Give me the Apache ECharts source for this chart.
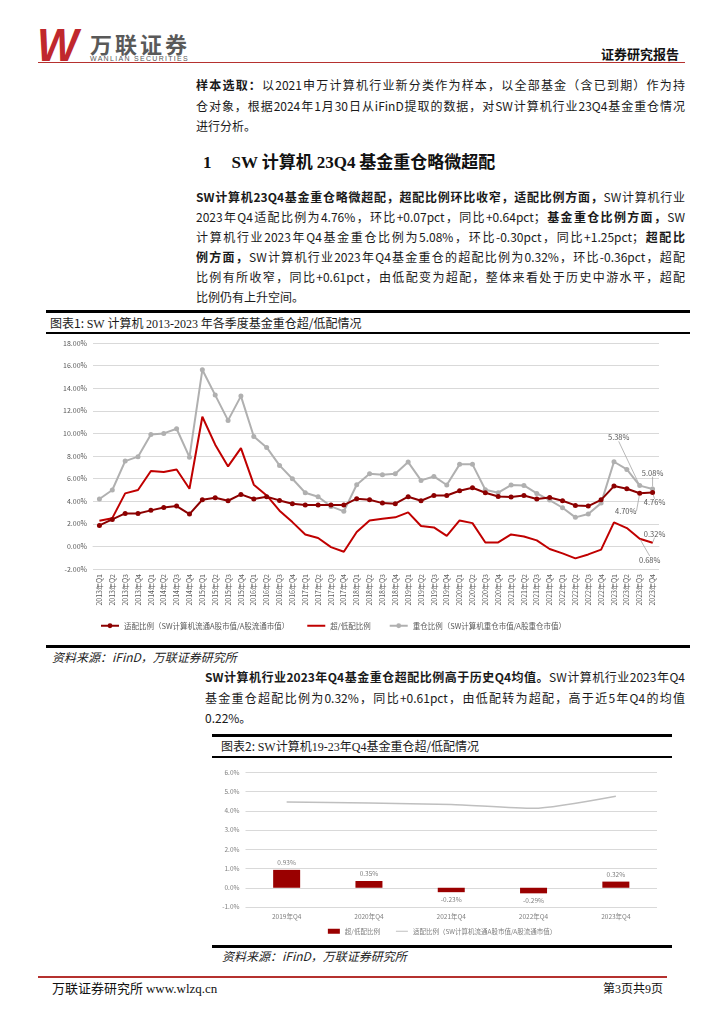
<!DOCTYPE html>
<html><head><meta charset="utf-8">
<script src="https://cdn.jsdelivr.net/npm/echarts@6/dist/echarts.min.js"></script>
<style>
html,body{margin:0;padding:0;background:#fff;}
body{width:724px;height:1024px;position:relative;overflow:hidden;font-family:"Noto Sans CJK SC","Liberation Serif",serif;color:#1a1a1a;}
.abs{position:absolute;white-space:nowrap;}
.ln{position:absolute;font-size:12px;line-height:20px;height:20px;text-align:justify;text-align-last:justify;white-space:nowrap;}
.ln.last{text-align-last:left;}
b{font-weight:700;}
.rule{position:absolute;background:#000;}
</style></head>
<body>
<!-- header -->
<div class="abs" style="left:37px;top:22px;font:italic 700 46px/46px 'Liberation Sans',sans-serif;color:#c0282d;letter-spacing:-8px;transform:scaleX(0.95);transform-origin:left;">W</div>
<div class="abs" style="left:90px;top:31px;font-size:22px;line-height:24px;font-weight:700;color:#595959;letter-spacing:3px;">万联证券</div>
<div class="abs" style="left:90px;top:55px;font:400 7px/8px 'Liberation Sans',sans-serif;color:#595959;letter-spacing:1.3px;">WANLIAN SECURITIES</div>
<div class="abs" style="left:601px;top:45px;font-size:13px;line-height:18px;font-weight:700;color:#111;">证券研究报告</div>
<div class="rule" style="left:38px;top:62px;width:647px;height:1px;background:#b5312f;"></div>

<!-- intro -->
<div class="ln" style="left:196px;top:75px;width:489px;"><b>样本选取：</b>以2021申万计算机行业新分类作为样本，以全部基金（含已到期）作为持</div>
<div class="ln" style="left:196px;top:96px;width:489px;">仓对象，根据2024年1月30日从iFinD提取的数据，对SW计算机行业23Q4基金重仓情况</div>
<div class="ln last" style="left:196px;top:116px;width:489px;">进行分析。</div>

<div class="abs" style="left:203px;top:149px;font-size:17px;line-height:24px;font-weight:700;color:#111;"><span style="font-family:'Liberation Serif',serif;">1</span><span style="display:inline-block;width:20px;"></span><span style="font-family:'Liberation Serif',serif;">SW</span> 计算机 <span style="font-family:'Liberation Serif',serif;">23Q4</span> 基金重仓略微超配</div>

<div class="ln" style="left:196px;top:187px;width:489px;"><b>SW计算机23Q4基金重仓略微超配，超配比例环比收窄，适配比例方面，</b>SW计算机行业</div>
<div class="ln" style="left:196px;top:207px;width:489px;">2023年Q4适配比例为4.76%，环比+0.07pct，同比+0.64pct；<b>基金重仓比例方面，</b>SW</div>
<div class="ln" style="left:196px;top:227px;width:489px;">计算机行业2023年Q4基金重仓比例为5.08%，环比-0.30pct，同比+1.25pct；<b>超配比</b></div>
<div class="ln" style="left:196px;top:247px;width:489px;"><b>例方面，</b>SW计算机行业2023年Q4基金重仓的超配比例为0.32%，环比-0.36pct，超配</div>
<div class="ln" style="left:196px;top:267px;width:489px;">比例有所收窄，同比+0.61pct，由低配变为超配，整体来看处于历史中游水平，超配</div>
<div class="ln last" style="left:196px;top:287px;width:489px;">比例仍有上升空间。</div>

<!-- figure 1 -->
<div class="rule" style="left:46px;top:310px;width:644px;height:3px;"></div>
<div class="abs" style="left:50px;top:314px;font-size:12px;line-height:18px;">图表1: <span style="font-family:'Liberation Serif',serif;">SW</span> 计算机 <span style="font-family:'Liberation Serif',serif;">2013-2023</span> 年各季度基金重仓超/低配情况</div>
<div class="rule" style="left:46px;top:332px;width:644px;height:2px;"></div>
<div id="c1" style="position:absolute;left:40px;top:334px;width:660px;height:311px;"></div>
<div class="rule" style="left:46px;top:645px;width:644px;height:3px;"></div>
<div class="abs" style="left:52px;top:648px;font-size:12px;line-height:18px;font-style:italic;color:#222;">资料来源：iFinD，万联证券研究所</div>

<div class="ln" style="left:205px;top:667px;width:480px;"><b>SW计算机行业2023年Q4基金重仓超配比例高于历史Q4均值。</b>SW计算机行业2023年Q4</div>
<div class="ln" style="left:205px;top:688px;width:480px;">基金重仓超配比例为0.32%，同比+0.61pct，由低配转为超配，高于近5年Q4的均值</div>
<div class="ln last" style="left:205px;top:708px;width:480px;">0.22%。</div>

<!-- figure 2 -->
<div class="rule" style="left:212px;top:734px;width:460px;height:3px;"></div>
<div class="abs" style="left:221px;top:737px;font-size:12px;line-height:18px;">图表2: <span style="font-family:'Liberation Serif',serif;">SW</span>计算机<span style="font-family:'Liberation Serif',serif;">19-23</span>年<span style="font-family:'Liberation Serif',serif;">Q4</span>基金重仓超/低配情况</div>
<div class="rule" style="left:212px;top:756px;width:460px;height:2px;"></div>
<div id="c2" style="position:absolute;left:212px;top:758px;width:460px;height:187px;"></div>
<div class="rule" style="left:212px;top:945px;width:460px;height:3px;"></div>
<div class="abs" style="left:222px;top:947px;font-size:12px;line-height:18px;font-style:italic;color:#222;">资料来源：iFinD，万联证券研究所</div>

<!-- footer -->
<div class="rule" style="left:38px;top:976px;width:629px;height:2px;background:#b5312f;"></div>
<div class="abs" style="left:52px;top:979px;font-size:13px;line-height:18px;color:#111;">万联证券研究所 <span style="font-family:'Liberation Serif',serif;">www.wlzq.cn</span></div>
<div class="abs" style="left:603px;top:979px;font-size:12px;line-height:18px;color:#111;">第<span style="font-family:'Liberation Serif',serif;">3</span>页共<span style="font-family:'Liberation Serif',serif;">9</span>页</div>

<script>
// ---------- data: chart 1 ----------
var quarters = ["2013年Q1","2013年Q2","2013年Q3","2013年Q4","2014年Q1","2014年Q2","2014年Q3","2014年Q4",
"2015年Q1","2015年Q2","2015年Q3","2015年Q4","2016年Q1","2016年Q2","2016年Q3","2016年Q4",
"2017年Q1","2017年Q2","2017年Q3","2017年Q4","2018年Q1","2018年Q2","2018年Q3","2018年Q4",
"2019年Q1","2019年Q2","2019年Q3","2019年Q4","2020年Q1","2020年Q2","2020年Q3","2020年Q4",
"2021年Q1","2021年Q2","2021年Q3","2021年Q4","2022年Q1","2022年Q2","2022年Q3","2022年Q4",
"2023年Q1","2023年Q2","2023年Q3","2023年Q4"];
var fitRatio = [1.86,2.39,2.92,2.92,3.19,3.45,3.57,2.86,4.13,4.31,4.04,4.60,4.19,4.40,4.07,3.78,
3.66,3.66,3.66,3.66,4.22,4.13,3.83,3.78,4.40,4.04,4.51,4.51,4.93,5.19,4.75,4.42,
4.37,4.51,4.19,4.33,4.04,3.63,3.57,4.12,5.34,5.10,4.70,4.76];
var overUnder = [2.27,2.50,4.69,4.99,6.67,6.58,6.81,5.10,11.47,9.00,7.08,8.70,5.46,4.51,3.16,2.15,
1.06,0.74,-0.06,-0.47,1.27,2.30,2.45,2.57,3.01,1.80,1.68,0.93,2.30,2.06,0.35,0.35,
1.06,0.88,0.53,-0.23,-0.62,-1.06,-0.71,-0.29,2.12,1.62,0.68,0.32];
var heldRatio = [4.19,4.99,7.55,7.94,9.91,10.00,10.41,7.90,15.63,13.39,11.15,13.30,9.73,8.76,7.17,5.99,
4.75,4.40,3.54,3.10,5.46,6.43,6.34,6.43,7.46,5.84,6.19,5.43,7.26,7.26,5.01,4.75,
5.43,5.40,4.69,4.10,3.42,2.57,2.86,3.83,7.49,6.81,5.38,5.08];
var seriesNames1 = ["适配比例（SW计算机流通A股市值/A股流通市值）","超/低配比例","重仓比例（SW计算机重仓市值/A股重仓市值）"];
var yTicks1 = {min:-2, max:18, interval:2};

// ---------- data: chart 2 ----------
var q4Cats = ["2019年Q4","2020年Q4","2021年Q4","2022年Q4","2023年Q4"];
var q4OverUnder = [0.93,0.35,-0.23,-0.29,0.32];
var q4Fit = [4.46,4.40,4.33,4.13,4.76];
var seriesNames2 = ["超/低配比例","适配比例（SW计算机流通A股市值/A股流通市值）"];
var yTicks2 = {min:-1, max:6, interval:1};

// ---------- styling ----------
var FONT = "Noto Sans CJK SC";
var AX = "#595959";
var GRID = "#d9d9d9";
var DARKRED = "#8c0000";
var RED = "#c00000";
var GRAY = "#b0b0b0";
var LINE_ICON = "path://M0,0 L18,0 L18,2 L0,2 Z";
var lastIdx = [42, 43];
var labelShift = {
  held: {42:[-21,-48], 43:[0,-16]},
  fit:  {42:[-14,18], 43:[2,10]},
  ou:   {42:[10,21], 43:[2,-9]}
};
function pct2(v){ return v.toFixed(2) + "%"; }
function withLabels(arr, hiddenSymbol){
  return arr.map(function(v,i){
    if (lastIdx.indexOf(i) < 0) return v;
    var item = {value:v, label:{show:true}};
    if (hiddenSymbol) { item.symbol = "circle"; item.symbolSize = 1; }
    return item;
  });
}
function layoutFor(key){
  return function(p){
    var s = labelShift[key][p.dataIndex];
    return s ? {dx:s[0], dy:s[1]} : {};
  };
}
var annLabel = {show:false, position:"inside", fontFamily:FONT, fontSize:7.5, color:AX,
  formatter:function(p){ return pct2(p.value); }};
var annLine = {show:true, length2:0, smooth:false, lineStyle:{color:"#a6a6a6", width:0.8}};

var c1 = echarts.init(document.getElementById("c1"), null, {renderer:"canvas"});
c1.setOption({
  animation:false,
  textStyle:{fontFamily:FONT},
  grid:{left:53, top:9, width:566, height:226, containLabel:false},
  legend:{
    left:55, top:283, itemGap:18, itemWidth:18, itemHeight:6, symbolKeepAspect:true,
    textStyle:{fontFamily:FONT, fontSize:7.5, color:AX},
    data:[seriesNames1[0], {name:seriesNames1[1], icon:LINE_ICON, itemStyle:{color:RED}}, seriesNames1[2]]
  },
  xAxis:{
    type:"category", data:quarters, boundaryGap:true,
    axisLine:{show:true, lineStyle:{color:GRID}},
    axisTick:{show:false},
    axisLabel:{interval:0, rotate:90, fontSize:7, color:AX, margin:5, fontFamily:FONT}
  },
  yAxis:{
    type:"value", min:yTicks1.min, max:yTicks1.max, interval:yTicks1.interval,
    axisLine:{show:false}, axisTick:{show:false},
    splitLine:{lineStyle:{color:GRID, width:1}},
    axisLabel:{fontSize:7, color:AX, margin:6, fontFamily:FONT, formatter:function(v){return v.toFixed(2)+"%";}}
  },
  series:[
    {name:seriesNames1[0], type:"line", data:withLabels(fitRatio,false), symbol:"circle", symbolSize:5,
     itemStyle:{color:DARKRED}, lineStyle:{color:DARKRED, width:2}, z:4,
     label:annLabel, labelLine:annLine, labelLayout:layoutFor("fit")},
    {name:seriesNames1[1], type:"line", data:withLabels(overUnder,true), symbol:"none",
     itemStyle:{color:RED}, lineStyle:{color:RED, width:2}, z:3,
     label:annLabel, labelLine:annLine, labelLayout:layoutFor("ou")},
    {name:seriesNames1[2], type:"line", data:withLabels(heldRatio,false), symbol:"circle", symbolSize:5,
     itemStyle:{color:GRAY}, lineStyle:{color:GRAY, width:2}, z:2,
     label:annLabel, labelLine:annLine, labelLayout:layoutFor("held")}
  ]
});

var c2 = echarts.init(document.getElementById("c2"), null, {renderer:"canvas"});
c2.setOption({
  animation:false,
  textStyle:{fontFamily:FONT},
  grid:{left:33.5, top:14.3, width:411.5, height:134.7, containLabel:false},
  legend:{
    left:"center", top:165, itemGap:16, itemWidth:12, itemHeight:5, symbolKeepAspect:true,
    textStyle:{fontFamily:FONT, fontSize:6.5, color:"#7f7f7f"},
    data:[{name:seriesNames2[0], icon:"rect"},
          {name:seriesNames2[1], icon:"path://M0,0 L12,0 L12,1 L0,1 Z", itemStyle:{color:"#bfbfbf"}}]
  },
  xAxis:{
    type:"category", data:q4Cats, boundaryGap:true,
    axisLine:{show:false}, axisTick:{show:false},
    axisLabel:{fontSize:6.5, color:"#7f7f7f", margin:6, fontFamily:FONT}
  },
  yAxis:{
    type:"value", min:yTicks2.min, max:yTicks2.max, interval:yTicks2.interval,
    axisLine:{show:false}, axisTick:{show:false},
    splitLine:{lineStyle:{color:GRID, width:1}},
    axisLabel:{fontSize:6.5, color:"#7f7f7f", margin:6, fontFamily:FONT, formatter:function(v){return v.toFixed(1)+"%";}}
  },
  series:[
    {name:seriesNames2[0], type:"bar", barWidth:27,
     data:q4OverUnder.map(function(v){ return v < 0 ? {value:v, label:{position:"bottom"}} : v; }),
     itemStyle:{color:"#9a0000"},
     label:{show:true, fontSize:6.5, color:"#7f7f7f", fontFamily:FONT, distance:4,
       position:"top",
       formatter:function(p){return pct2(p.value);}}
    },
    {name:seriesNames2[1], type:"line", data:q4Fit, symbol:"none", smooth:0.2,
     itemStyle:{color:"#bfbfbf"}, lineStyle:{color:"#bfbfbf", width:1.5}}
  ]
});
</script>
</body></html>
